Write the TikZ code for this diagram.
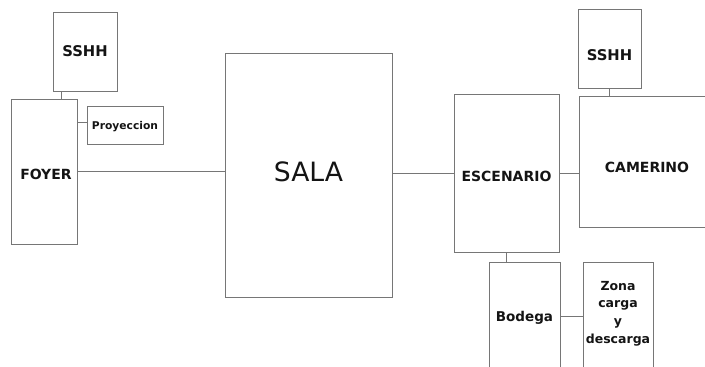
\documentclass[tikz,border=0pt]{standalone}
\usepackage{fontspec}
\setmainfont{DejaVu Sans}
\definecolor{linec}{RGB}{118,118,118}
\definecolor{textc}{RGB}{20,20,20}
\begin{document}
\begin{tikzpicture}[x=1pt,y=-1pt,
  box/.style={draw=linec, line width=1pt, rectangle, inner sep=0pt, text depth=0pt, text=textc, font=\bfseries\fontsize{14}{16}\selectfont},
  lab/.style={text=textc, font=\bfseries\fontsize{14}{16}\selectfont, inner sep=0pt},
  conn/.style={draw=linec, line width=1pt}]
\useasboundingbox (0,0) rectangle (705,367);
\clip (0,0) rectangle (705,367);
% boxes
\node[box, minimum width=64pt, minimum height=79pt, font=\bfseries\fontsize{14.8}{16}\selectfont] (ss1) at (85,51.5) {SSHH};
\node[box, minimum width=66pt, minimum height=145pt, label={[lab, xshift=2pt, yshift=-2.5pt]center:FOYER}] (foyer) at (44,171.5) {};
\node[box, minimum width=76pt, minimum height=38pt, font=\bfseries\fontsize{10.7}{12}\selectfont] (proy) at (125,125) {Proyeccion};
\node[box, minimum width=167pt, minimum height=244pt, label={[text=textc, inner sep=0pt, font=\fontsize{26.6}{30}\selectfont, yshift=3pt]center:SALA}] (sala) at (308.5,175) {};
\node[box, minimum width=105pt, minimum height=158pt, label={[lab, yshift=-3pt]center:ESCENARIO}] (esc) at (506.5,173) {};
\node[box, minimum width=63pt, minimum height=79pt, label={[lab, font=\bfseries\fontsize{14.8}{16}\selectfont, yshift=-6.5pt]center:SSHH}] (ss2) at (609.5,48.5) {};
\node[box, minimum width=136pt, minimum height=131pt, label={[lab, yshift=-5.5pt]center:CAMERINO}] (cam) at (647,161.5) {};
\node[box, minimum width=71pt, minimum height=108pt, font=\bfseries\fontsize{13.5}{16}\selectfont] (bod) at (524.5,316) {Bodega};
\node[box, minimum width=70pt, minimum height=108pt, align=center, font=\bfseries\fontsize{12.5}{17.7}\selectfont, label={[lab, align=center, font=\bfseries\fontsize{12.5}{17.7}\selectfont, yshift=2.5pt]center:Zona\\carga\\y\\descarga}] (zona) at (618,316) {};
% connectors
\draw[conn] ([xshift=9pt]ss1.south west) -- ([xshift=9pt]ss1.south west |- foyer.north);
\draw[conn] ([yshift=3pt]proy.west -| foyer.east) -- ([yshift=3pt]proy.west);
\draw[conn] (foyer.east) -- (foyer.east -| sala.west);
\draw[conn] (esc.west -| sala.east) -- (esc.west);
\draw[conn] (esc.east) -- (esc.east -| cam.west);
\draw[conn] (ss2.south) -- (ss2.south |- cam.north);
\draw[conn] (esc.south) -- (esc.south |- bod.north);
\draw[conn] (bod.east) -- (zona.west);
\end{tikzpicture}
\end{document}
